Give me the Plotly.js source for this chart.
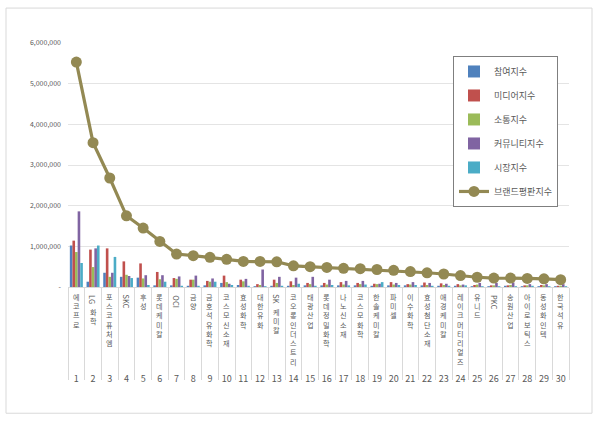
<!DOCTYPE html>
<html>
<head>
<meta charset="utf-8">
<script src="https://cdn.plot.ly/plotly-3.0.1.min.js"></script>
<style>html,body{margin:0;padding:0;background:#fff;}#chart{width:600px;height:424px;}</style>
</head>
<body>
<div id="chart"></div>
<script>
const ranks = ['1','2','3','4','5','6','7','8','9','10','11','12','13','14','15','16','17','18','19','20','21','22','23','24','25','26','27','28','29','30'];
const names = ['에코프로','LG화학','포스코퓨처엠','SKC','후성','롯데케미칼','OCI','금양','금호석유화학','코스모신소재','효성화학','대한유화','SK케미칼','코오롱인더스트리','태광산업','롯데정밀화학','나노신소재','코스모화학','한솔케미칼','파미셀','이수화학','효성첨단소재','애경케미칼','레이크머티리얼즈','유니드','PKC','송원산업','아이로보틱스','동성화인텍','한국석유'];
const seriesNames = ['참여지수','미디어지수','소통지수','커뮤니티지수','시장지수','브랜드평판지수'];
const participation = [1020000,130000,350000,250000,230000,40000,40000,30000,40000,100000,50000,20000,30000,30000,40000,40000,40000,40000,30000,40000,40000,40000,30000,30000,20000,20000,30000,20000,20000,20000];
const media = [1140000,920000,950000,630000,580000,370000,220000,180000,150000,280000,180000,70000,180000,140000,100000,100000,120000,100000,80000,120000,70000,110000,90000,70000,50000,40000,40000,40000,50000,30000];
const communication = [860000,490000,250000,300000,210000,190000,200000,180000,130000,120000,140000,50000,100000,50000,70000,60000,60000,70000,70000,60000,60000,50000,50000,40000,60000,40000,50000,40000,40000,30000];
const community = [1860000,950000,350000,270000,290000,290000,260000,280000,210000,80000,200000,430000,250000,230000,250000,180000,150000,150000,80000,100000,120000,100000,80000,60000,100000,100000,110000,70000,70000,70000];
const market = [590000,1020000,740000,220000,50000,130000,30000,30000,130000,50000,30000,20000,30000,80000,30000,50000,40000,60000,120000,50000,50000,30000,30000,40000,20000,20000,20000,30000,20000,20000];
const brandIndex = [5530000,3550000,2680000,1750000,1450000,1120000,810000,770000,730000,680000,630000,630000,620000,520000,500000,480000,460000,450000,430000,410000,380000,350000,320000,280000,240000,220000,220000,210000,200000,180000];
const yTickVals = [0,1000000,2000000,3000000,4000000,5000000,6000000];
const yTickText = ['-','1,000,000','2,000,000','3,000,000','4,000,000','5,000,000','6,000,000'];

const colors = ['#4F81BD','#C0504D','#9BBB59','#8064A2','#4BACC6','#938953'];
const barData = [participation, media, communication, community, market];
const FONT = '"Noto Sans CJK KR", "Noto Sans", sans-serif';

const traces = barData.map((vals, i) => ({
  type: 'bar', x: ranks, y: vals, name: seriesNames[i],
  marker: {color: colors[i]}, legendgroup: 'g' + i, hoverinfo: 'skip'
}));
traces.push({
  type: 'scatter', mode: 'lines+markers', x: ranks, y: brandIndex, name: seriesNames[5],
  line: {color: colors[5], width: 3.2}, marker: {color: colors[5], size: 11},
  legendgroup: 'g5', hoverinfo: 'skip'
});

// plot area geometry in px
const L = 68, R = 569, T = 43, B = 287.5;
const PH = B - T;
const py2paper = py => (B - py) / PH;
const px2paper = px => (px - L) / (R - L);

const annotations = [];
names.forEach((nm, i) => {
  let cursor = 292;
  const m = nm.match(/^([A-Za-z]*)(.*)$/);
  const latin = m[1], korean = m[2];
  if (latin) {
    const len = latin.length * 5.6;
    annotations.push({x: i, xref: 'x', y: py2paper(cursor + 2 + len / 2), yref: 'paper',
      text: latin, showarrow: false, textangle: 90, xanchor: 'center', yanchor: 'middle',
      borderpad: 0, font: {family: FONT, size: 7.5, color: '#595959'}});
    cursor += len + 3;
  }
  if (korean) {
    annotations.push({x: i, xref: 'x', y: py2paper(cursor), yref: 'paper',
      text: Array.from(korean).join('<br>'), showarrow: false, xanchor: 'center', yanchor: 'top',
      borderpad: 0, font: {family: FONT, size: 7.1, color: '#595959'}});
  }
});

const layout = {
  width: 600, height: 424,
  margin: {l: L, r: 600 - R, t: T, b: 424 - B, pad: 0},
  paper_bgcolor: '#fff', plot_bgcolor: '#fff',
  barmode: 'group', bargap: 0.22, bargroupgap: 0,
  showlegend: true,
  legend: {x: px2paper(453), y: py2paper(56), xanchor: 'left', yanchor: 'top',
    bgcolor: '#fff', bordercolor: '#7f7f7f', borderwidth: 1,
    font: {family: FONT, size: 9, color: '#595959'}, tracegroupgap: 5,
    traceorder: 'grouped', itemwidth: 30},
  xaxis: {type: 'category', range: [-0.5, 29.5], tickson: 'boundaries', ticks: 'outside',
    ticklen: 92, tickcolor: '#d9d9d9', tickwidth: 1, showgrid: false, zeroline: false,
    showline: true, linecolor: '#d9d9d9', linewidth: 1,
    tickvals: ranks, ticktext: ranks, ticklabelstandoff: 83, tickangle: 0,
    tickfont: {family: FONT, size: 9, color: '#595959'}, fixedrange: true},
  yaxis: {range: [0, 6000000], tickvals: yTickVals, ticktext: yTickText,
    showgrid: true, gridcolor: '#e4e4e4', gridwidth: 1, zeroline: false, showline: false,
    ticks: '', ticklabelstandoff: 6,
    tickfont: {family: FONT, size: 7, color: '#595959'}, fixedrange: true},
  annotations: annotations,
  shapes: [{type: 'rect', xref: 'paper', yref: 'paper',
    x0: px2paper(6), x1: px2paper(592), y0: py2paper(414), y1: py2paper(8),
    line: {color: '#d9d9d9', width: 1}, layer: 'below'}]
};

Plotly.newPlot('chart', traces, layout, {displayModeBar: false, staticPlot: true});
</script>
</body>
</html>
